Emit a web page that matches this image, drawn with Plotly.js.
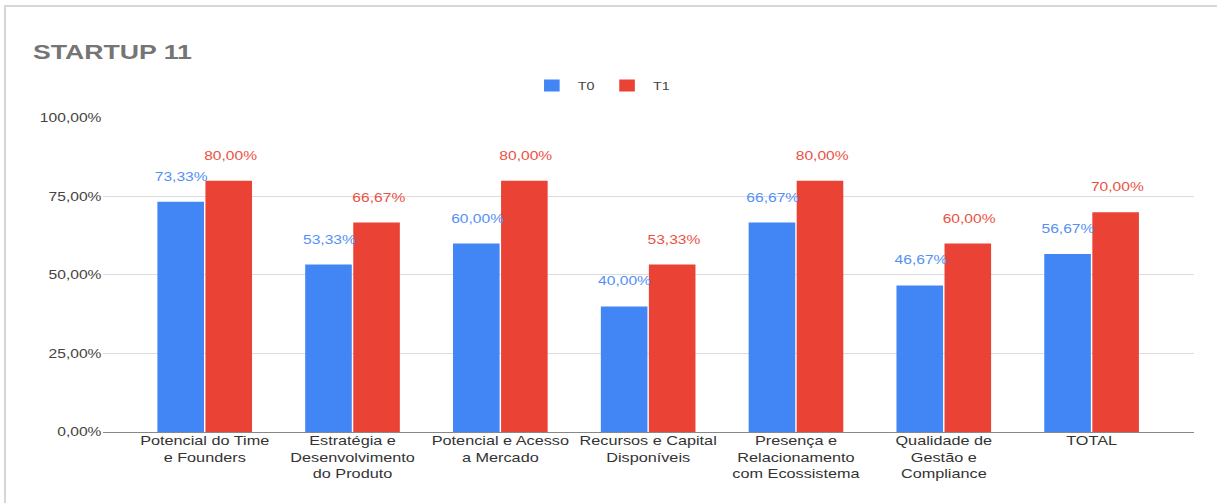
<!DOCTYPE html>
<html>
<head>
<meta charset="utf-8">
<script src="https://cdn.plot.ly/plotly-3.0.1.min.js"></script>
<style>
  html, body { margin: 0; padding: 0; background: #fff; overflow: hidden; }
  #frame { position: absolute; left: 4px; top: 5px; width: 1213px; height: 498px;
           border-left: 2px solid #d6d6d6; border-top: 2px solid #d6d6d6; box-sizing: border-box; }
  #chart { position: absolute; left: 0; top: 0; height: 503px; transform-origin: 0 0; }
</style>
</head>
<body>
<div id="frame"></div>
<div id="chart"></div>
<script>
const categories = [
  "Potencial do Time<br>e Founders",
  "Estratégia e<br>Desenvolvimento<br>do Produto",
  "Potencial e Acesso<br>a Mercado",
  "Recursos e Capital<br>Disponíveis",
  "Presença e<br>Relacionamento<br>com Ecossistema",
  "Qualidade de<br>Gestão e<br>Compliance",
  "TOTAL"
];
const seriesNames = ["T0", "T1"];
const t0Values = [73.33, 53.33, 60.00, 40.00, 66.67, 46.67, 56.67];
const t1Values = [80.00, 66.67, 80.00, 53.33, 80.00, 60.00, 70.00];
const yTickVals = [0, 25, 50, 75, 100];
const yTickText = ["0,00%", "25,00%", "50,00%", "75,00%", "100,00%"];

const BLUE = "#4285F4", RED = "#EA4335";
const FONT = "Liberation Sans, Arial, sans-serif";
const fmt = v => v.toFixed(2).replace(".", ",") + "%";

// horizontal stretch of the original rendering
const W = 936;
const S = 1217 / W;
const chartDiv = document.getElementById("chart");
chartDiv.style.width = W + "px";
chartDiv.style.transform = "scaleX(" + S + ")";

const traces = [
  { type: "bar", name: seriesNames[0], x: categories, y: t0Values, marker: { color: BLUE }, hoverinfo: "none" },
  { type: "bar", name: seriesNames[1], x: categories, y: t1Values, marker: { color: RED }, hoverinfo: "none" }
];

const annotations = [];
const off = 24.5 / S;
categories.forEach((c, i) => {
  annotations.push({ x: c, y: t0Values[i], xref: "x", yref: "y", text: fmt(t0Values[i]),
    showarrow: false, xshift: -off + 1.5 / S, yshift: 25, font: { color: "#5591f5", size: 12, family: FONT } });
  annotations.push({ x: c, y: t1Values[i], xref: "x", yref: "y", text: fmt(t1Values[i]),
    showarrow: false, xshift: off + 1.5 / S, yshift: 25, font: { color: "#ec5246", size: 12, family: FONT } });
});

const layout = {
  width: W, height: 503,
  paper_bgcolor: "rgba(0,0,0,0)", plot_bgcolor: "rgba(0,0,0,0)",
  margin: { l: 103 / S, r: 24 / S, t: 117, b: 71 },
  font: { family: FONT, size: 12, color: "#333" },
  title: { text: "<b>STARTUP 11</b>", x: (33 / S) / W, xanchor: "left", xref: "container",
           y: 1 - 52 / 503, yanchor: "middle", yref: "container",
           font: { size: 20.5, color: "#757575", family: FONT } },
  barmode: "group", bargap: 0.35, bargroupgap: 0.03,
  showlegend: true,
  legend: { orientation: "h", x: 0.457, xanchor: "center", y: 1.1, yanchor: "middle",
            font: { size: 11, color: "#444" }, itemwidth: 30 },
  xaxis: { type: "category", range: [-0.69, 6.69], showgrid: false, ticks: "",
           tickfont: { size: 12.5, color: "#333" }, showline: false },
  yaxis: { range: [0, 100.3], tickvals: yTickVals, ticktext: yTickText, showgrid: true,
           gridcolor: "#dcdcdc", zeroline: true, zerolinecolor: "#888", zerolinewidth: 1,
           tickfont: { size: 12, color: "#444" }, fixedrange: true },
  annotations: annotations
};

Plotly.newPlot("chart", traces, layout, { displayModeBar: false, staticPlot: true });
</script>
</body>
</html>
